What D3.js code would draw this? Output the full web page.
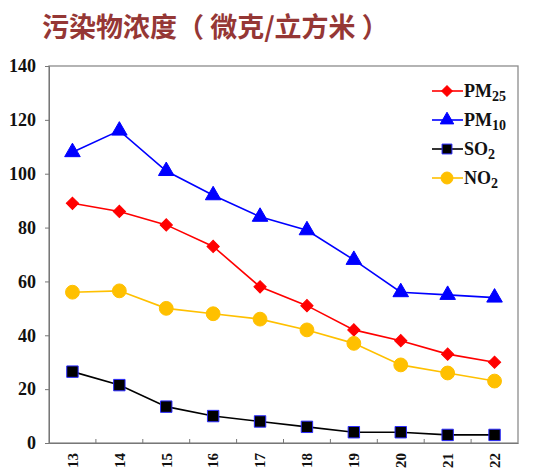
<!DOCTYPE html>
<html lang="zh">
<head>
    <meta charset="UTF-8">
    <title>污染物浓度</title>
    <script src="https://d3js.org/d3.v7.min.js"></script>
    <style>
        body {
            margin: 0;
            background: #fff;
        }
        .title {
            font-family: "Noto Sans CJK SC", sans-serif;
            font-weight: bold;
            font-size: 27px;
            fill: #953735;
        }
        .tick text, .legend text {
            font-family: "Liberation Serif", "Times New Roman", serif;
            font-weight: bold;
            fill: #111;
        }
    </style>
</head>
<body>
    <svg id="chart" width="534" height="471"></svg>
    <script>
        // Data
        const years = ["13", "14", "15", "16", "17", "18", "19", "20", "21", "22"];
        const pm25 = [89, 86, 81, 73, 58, 51, 42, 38, 33, 30];
        const pm10 = [108, 116, 101, 92, 84, 79, 68, 56, 55, 54];
        const so2 = [26.5, 21.5, 13.5, 10, 8, 6, 4, 4, 3, 3];
        const no2 = [56, 56.5, 50, 48, 46, 42, 37, 29, 26, 23];
        const yTicks = [0, 20, 40, 60, 80, 100, 120, 140];

        // diamonds are squares turned 45 degrees
        const series = [
            { name: "PM", sub: "25", values: pm25, color: "#ff0000", symbol: d3.symbolSquare, rot: 45, size: 75, fill: "#ff0000", stroke: "#ff0000" },
            { name: "PM", sub: "10", values: pm10, color: "#0000ff", symbol: d3.symbolTriangle, rot: 0, size: 105, fill: "#0000ff", stroke: "#0000ff" },
            { name: "SO", sub: "2", values: so2, color: "#000000", symbol: d3.symbolSquare, rot: 0, size: 130, fill: "#000000", stroke: "#2a2aff" },
            { name: "NO", sub: "2", values: no2, color: "#ffc000", symbol: d3.symbolCircle, rot: 0, size: 150, fill: "#ffc000", stroke: "#ffc000" }
        ];

        const plotLeft = 49, plotRight = 518, plotTop = 66, plotBottom = 443;
        const svg = d3.select("#chart");

        // Title
        svg.append("text")
            .attr("class", "title")
            .attr("x", 42)
            .attr("y", 37)
            .text("污染物浓度（ 微克/立方米 ）");

        const x = d3.scaleBand().domain(years).range([plotLeft, plotRight]);
        const y = d3.scaleLinear().domain([0, 140]).range([plotBottom, plotTop]);

        // plot frame
        svg.append("rect")
            .attr("x", plotLeft).attr("y", plotTop)
            .attr("width", plotRight - plotLeft).attr("height", plotBottom - plotTop)
            .attr("fill", "none").attr("stroke", "#8c8c8c").attr("stroke-width", 1.3);

        // Y axis
        const yAxis = svg.append("g")
            .attr("transform", `translate(${plotLeft},0)`)
            .call(d3.axisLeft(y).tickValues(yTicks).tickSize(4).tickPadding(9));
        yAxis.select(".domain").attr("stroke", "#777");
        yAxis.selectAll(".tick line").attr("stroke", "#777");
        yAxis.selectAll(".tick text").style("font-size", "18px");

        // X axis: ticks between categories, pointing up
        const xAxis = svg.append("g")
            .attr("transform", `translate(0,${plotBottom})`)
            .call(d3.axisBottom(x).tickSize(0).tickSizeOuter(0));
        xAxis.select(".domain").attr("stroke", "#777");
        xAxis.selectAll(".tick text")
            .style("font-size", "15px")
            .attr("transform", "rotate(-90)")
            .attr("text-anchor", "end")
            .attr("dy", "0.35em")
            .attr("x", -10)
            .attr("y", 0);
        svg.append("g")
            .selectAll("line")
            .data(years.slice(1))
            .join("line")
            .attr("x1", d => x(d)).attr("x2", d => x(d))
            .attr("y1", plotBottom).attr("y2", plotBottom - 4)
            .attr("stroke", "#777");

        const line = d3.line()
            .x((d, i) => x(years[i]) + x.bandwidth() / 2)
            .y(d => y(d));

        const plot = svg.append("g");
        series.forEach(s => {
            plot.append("path")
                .datum(s.values)
                .attr("fill", "none")
                .attr("stroke", s.color)
                .attr("stroke-width", 1.6)
                .attr("d", line);
            plot.selectAll(null)
                .data(s.values)
                .join("path")
                .attr("transform", (d, i) => `translate(${x(years[i]) + x.bandwidth() / 2},${y(d)}) rotate(${s.rot})`)
                .attr("d", d3.symbol().type(s.symbol).size(s.size))
                .attr("fill", s.fill)
                .attr("stroke", s.stroke)
                .attr("stroke-width", 1);
        });

        // Legend
        const legend = svg.append("g").attr("class", "legend");
        series.forEach((s, i) => {
            const ly = 91 + i * 29;
            const g = legend.append("g").attr("transform", `translate(0,${ly})`);
            g.append("line")
                .attr("x1", 432).attr("x2", 463)
                .attr("stroke", s.color).attr("stroke-width", 1.6);
            g.append("path")
                .attr("transform", `translate(447,0) rotate(${s.rot})`)
                .attr("d", d3.symbol().type(s.symbol).size(s.size * 0.75))
                .attr("fill", s.fill)
                .attr("stroke", s.stroke);
            const t = g.append("text")
                .attr("x", 464)
                .attr("y", 6)
                .style("font-size", "18px");
            t.append("tspan").text(s.name);
            t.append("tspan")
                .attr("dy", 4)
                .style("font-size", "14px")
                .text(s.sub);
        });
    </script>
</body>
</html>
